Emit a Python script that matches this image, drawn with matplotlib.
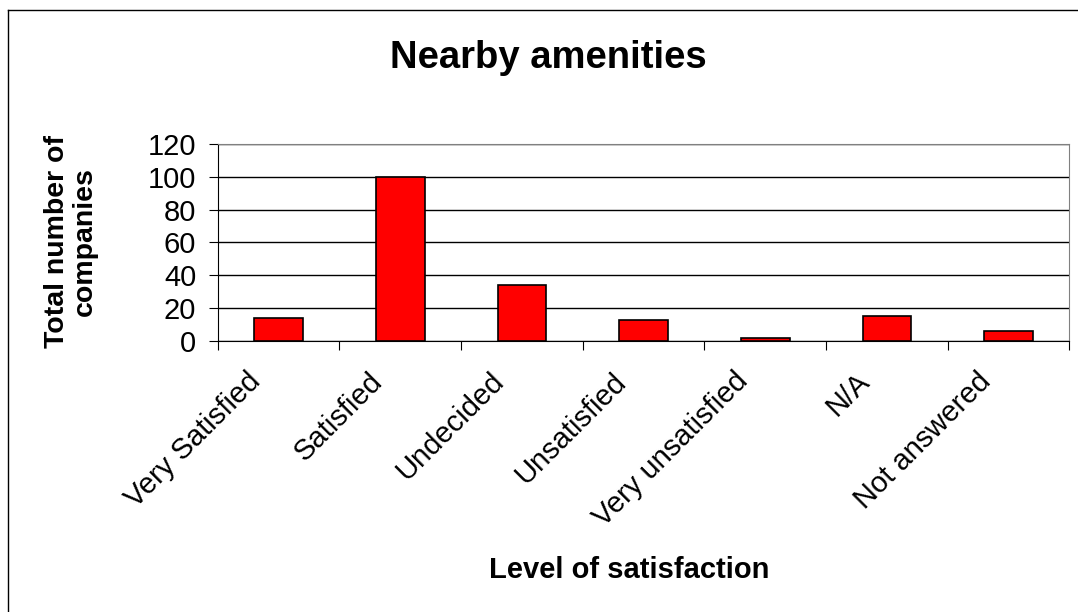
import numpy as np
import matplotlib.pyplot as plt
import matplotlib.transforms as mtransforms
from matplotlib.lines import Line2D

plt.rcParams['font.family'] = ['Liberation Sans', 'DejaVu Sans']

categories = ['Very Satisfied', 'Satisfied', 'Undecided', 'Unsatisfied',
              'Very unsatisfied', 'N/A', 'Not answered']
counts = [14, 100, 34, 13, 2, 15, 6]
yticks = [0, 20, 40, 60, 80, 100, 120]

fig = plt.figure(figsize=(10.78, 6.12), dpi=100)
ax = fig.add_axes([0.202, 0.443, 0.790, 0.322])

x = np.arange(len(categories))
ax.bar(x, counts, width=0.4, color='#ff0000', edgecolor='black', linewidth=1.2, zorder=3)

ax.set_xlim(-0.5, len(categories) - 0.5)
ax.set_ylim(0, 120)
ax.set_yticks(yticks)
ax.tick_params(axis='y', labelsize=21, length=6.5, pad=9, direction='out')
ax.yaxis.grid(True, color='black', linewidth=1, zorder=0)

# tick marks on category boundaries, labels at centres
ax.set_xticks(np.arange(len(categories) + 1) - 0.5)
ax.set_xticklabels([])
ax.set_xticks(x, minor=True)
ax.set_xticklabels(categories, minor=True, rotation=45, ha='right', va='center',
                   rotation_mode='anchor', fontsize=21)
ax.tick_params(axis='x', which='major', length=6.5)
ax.tick_params(axis='x', which='minor', length=0, pad=26)
shift = mtransforms.ScaledTranslation(-22 / 100, 0, fig.dpi_scale_trans)
for lab in ax.get_xticklabels(minor=True):
    lab.set_transform(lab.get_transform() + shift)

for side in ['top', 'right']:
    ax.spines[side].set_color('#808080')

fig.text(0.584, 0.068, 'Level of satisfaction', ha='center', va='center',
         fontsize=21, fontweight='bold')
fig.text(0.066, 0.605, 'Total number of\ncompanies', ha='center', va='center',
         rotation=90, fontsize=20.5, fontweight='bold', linespacing=1.1)
fig.text(0.509, 0.905, 'Nearby amenities', ha='center', va='center',
         fontsize=27.5, fontweight='bold')

# chart-area border (only left and top edges fall inside the image)
fig.add_artist(Line2D([0.0074, 0.0074], [0, 0.9837], color='black', linewidth=1))
fig.add_artist(Line2D([0.0074, 1], [0.9837, 0.9837], color='black', linewidth=1))

fig.savefig('out.png', dpi=100)
